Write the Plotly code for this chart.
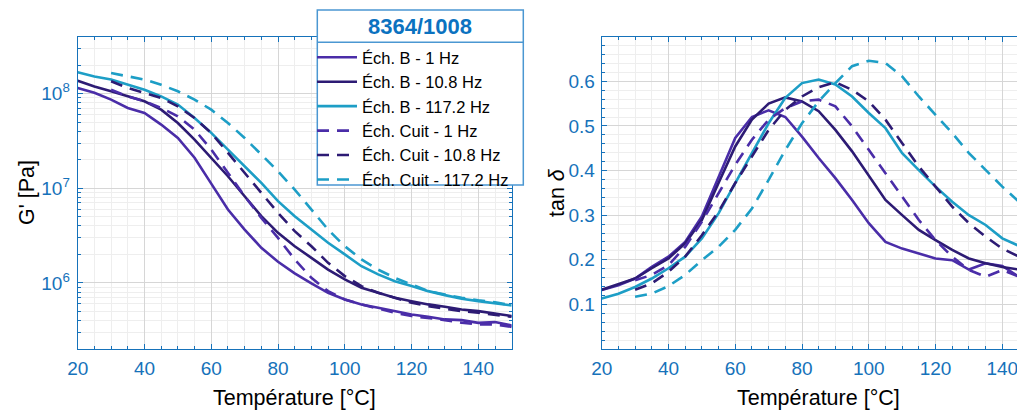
import plotly.graph_objects as go

# ---------------- data ----------------
temp_b = [20, 25, 30, 35, 40, 45, 50, 55, 60, 65, 70, 75, 80, 85, 90, 95, 100,
          105, 110, 115, 120, 125, 130, 135, 140, 145, 150]
temp_cuit = [30, 35, 40, 45, 50, 55, 60, 65, 70, 75, 80, 85, 90, 95, 100,
             105, 110, 115, 120, 125, 130, 135, 140, 145, 150]

# G' [Pa]
gp_b_1 = [1.15e8, 1.02e8, 8.65e7, 7.06e7, 6.25e7, 4.71e7, 3.40e7, 2.10e7, 1.12e7,
          5.96e6, 3.66e6, 2.35e6, 1.67e6, 1.26e6, 9.86e5, 7.85e5, 6.68e5, 5.92e5,
          5.46e5, 5.03e5, 4.64e5, 4.38e5, 4.11e5, 4.04e5, 3.78e5, 3.85e5, 3.55e5]
gp_b_10 = [1.37e8, 1.19e8, 1.06e8, 9.37e7, 8.30e7, 6.78e7, 4.90e7, 3.27e7, 2.09e7,
           1.34e7, 8.24e6, 5.07e6, 3.38e6, 2.44e6, 1.84e6, 1.38e6, 1.09e6, 8.87e5,
           7.85e5, 6.95e5, 6.41e5, 5.92e5, 5.59e5, 5.24e5, 5.03e5, 4.75e5, 4.46e5]
gp_b_117 = [1.68e8, 1.52e8, 1.41e8, 1.25e8, 1.10e8, 9.37e7, 7.66e7, 5.53e7, 3.85e7,
            2.56e7, 1.71e7, 1.14e7, 7.30e6, 5.07e6, 3.66e6, 2.65e6, 2.00e6, 1.50e6,
            1.23e6, 1.04e6, 9.24e5, 8.18e5, 7.42e5, 6.79e5, 6.41e5, 6.06e5, 5.77e5]
gp_c_1 = [1.10e8, 9.37e7, 8.30e7, 7.06e7, 5.77e7, 4.17e7, 2.56e7, 1.45e7, 8.24e6,
          4.86e6, 2.99e6, 1.77e6, 1.13e6, 8.18e5, 6.68e5, 5.92e5, 5.32e5, 4.83e5,
          4.46e5, 4.28e5, 4.04e5, 3.79e5, 3.64e5, 3.64e5, 3.43e5]
gp_c_10 = [1.35e8, 1.15e8, 1.02e8, 9.00e7, 7.35e7, 5.53e7, 3.85e7, 2.36e7, 1.45e7,
           8.93e6, 5.50e6, 3.52e6, 2.44e6, 1.63e6, 1.18e6, 9.24e5, 7.85e5, 6.95e5,
           6.16e5, 5.68e5, 5.32e5, 5.03e5, 4.83e5, 4.64e5, 4.38e5]
gp_c_117 = [1.65e8, 1.52e8, 1.41e8, 1.24e8, 1.06e8, 8.65e7, 6.78e7, 4.90e7, 3.40e7,
            2.27e7, 1.51e7, 9.69e6, 5.96e6, 3.66e6, 2.44e6, 1.77e6, 1.38e6, 1.13e6,
            9.62e5, 8.18e5, 7.54e5, 6.95e5, 6.56e5, 6.25e5, 5.77e5]

# tan delta
tan_b_1 = [0.132, 0.143, 0.158, 0.184, 0.207, 0.240, 0.297, 0.383, 0.473, 0.520,
           0.535, 0.520, 0.476, 0.428, 0.383, 0.334, 0.282, 0.240, 0.225, 0.214,
           0.203, 0.199, 0.178, 0.192, 0.186, 0.162, 0.175]
tan_b_10 = [0.133, 0.145, 0.158, 0.181, 0.203, 0.237, 0.289, 0.372, 0.454, 0.514,
            0.550, 0.564, 0.555, 0.533, 0.491, 0.443, 0.387, 0.334, 0.300, 0.267,
            0.244, 0.222, 0.203, 0.192, 0.184, 0.178, 0.172]
tan_b_117 = [0.113, 0.124, 0.139, 0.158, 0.181, 0.207, 0.248, 0.304, 0.372, 0.439,
             0.506, 0.563, 0.596, 0.604, 0.593, 0.566, 0.529, 0.495, 0.439, 0.401,
             0.364, 0.330, 0.300, 0.278, 0.248, 0.231, 0.215]
tan_c_1 = [0.154, 0.166, 0.188, 0.229, 0.285, 0.349, 0.413, 0.469, 0.514, 0.540,
           0.555, 0.559, 0.544, 0.499, 0.446, 0.394, 0.342, 0.289, 0.244, 0.207,
           0.177, 0.162, 0.177, 0.162, 0.170]
tan_c_10 = [0.133, 0.147, 0.173, 0.207, 0.255, 0.308, 0.372, 0.431, 0.491, 0.536,
            0.566, 0.587, 0.598, 0.581, 0.555, 0.514, 0.461, 0.409, 0.364, 0.319,
            0.282, 0.252, 0.225, 0.207, 0.192]
tan_c_117 = [0.117, 0.124, 0.141, 0.166, 0.199, 0.229, 0.267, 0.315, 0.379, 0.446,
             0.506, 0.555, 0.596, 0.634, 0.646, 0.641, 0.611, 0.566, 0.525, 0.484,
             0.439, 0.401, 0.364, 0.330, 0.310]

names = ["Éch. B - 1 Hz", "Éch. B - 10.8 Hz", "Éch. B - 117.2 Hz",
         "Éch. Cuit - 1 Hz", "Éch. Cuit - 10.8 Hz", "Éch. Cuit - 117.2 Hz"]
legend_title = "8364/1008"
x_title = "Température [°C]"
y1_title = "G' [Pa]"
y2_title = "tan <i>δ</i>"
x_ticks = [20, 40, 60, 80, 100, 120, 140]
y1_ticks = [1e6, 1e7, 1e8]
y1_ticktext = ["10<sup>6</sup>", "10<sup>7</sup>", "10<sup>8</sup>"]
y1_minor = [m * 10 ** e for e in range(5, 9) for m in range(2, 10) if 2e5 <= m * 10 ** e <= 4e8]
y2_ticks = [0.1, 0.2, 0.3, 0.4, 0.5, 0.6]

# ---------------- style ----------------
C1 = "#4a2da8"
C10 = "#2d1b74"
C117 = "#1d9ec6"
AX = "#1672ba"
GRID = "#d6d6d6"
MINOR = "#eeeeee"
FONT = "Liberation Sans, Arial, Helvetica, sans-serif"
LW = 2.6
DASH = "12px,8px"

# the page body adds an 8 px offset; the figure is sized to fill the rest
OFF = 8
W, H = 1025 - OFF, 412 - OFF
def px_x(p):
    return (p - OFF) / W
def px_y(p):
    return 1 - (p - OFF) / H

fig = go.Figure()

series = [
    (temp_b, gp_b_1, tan_b_1, C1, "solid", names[0]),
    (temp_b, gp_b_10, tan_b_10, C10, "solid", names[1]),
    (temp_b, gp_b_117, tan_b_117, C117, "solid", names[2]),
    (temp_cuit, gp_c_1, tan_c_1, C1, DASH, names[3]),
    (temp_cuit, gp_c_10, tan_c_10, C10, DASH, names[4]),
    (temp_cuit, gp_c_117, tan_c_117, C117, DASH, names[5]),
]
for xs, g, t, col, dash, nm in series:
    fig.add_trace(go.Scatter(x=xs, y=g, mode="lines", name=nm, legendgroup=nm,
                             line=dict(color=col, width=LW, dash=dash),
                             xaxis="x", yaxis="y"))
    fig.add_trace(go.Scatter(x=xs, y=t, mode="lines", name=nm, legendgroup=nm,
                             showlegend=False,
                             line=dict(color=col, width=LW, dash=dash),
                             xaxis="x2", yaxis="y2"))

tickfont = dict(family=FONT, size=19, color=AX)
titlefont = dict(family=FONT, size=21.5, color="black")

xcommon = dict(
    range=[20, 150], tickvals=x_ticks, ticks="inside", ticklen=5, tickcolor=AX,
    showline=True, linecolor=AX, linewidth=1.2, mirror="allticks",
    showgrid=True, gridcolor=GRID, gridwidth=1, zeroline=False, automargin=False,
    tickfont=tickfont, ticklabelstandoff=2,
    minor=dict(dtick=5, tick0=0, ticks="inside", ticklen=3, tickcolor=AX,
               showgrid=True, gridcolor=MINOR, gridwidth=1),
)

fig.update_layout(
    width=W, height=H,
    margin=dict(l=0, r=0, t=0, b=0),
    paper_bgcolor="white", plot_bgcolor="white",
    showlegend=True,
    xaxis=dict(xcommon, domain=[px_x(77.7), px_x(511.7)], anchor="y"),
    yaxis=dict(type="log", range=[5.30103, 8.60206], domain=[px_y(349), px_y(36.7)],
               anchor="x", tickvals=y1_ticks, ticktext=y1_ticktext,
               ticks="inside", ticklen=5, tickcolor=AX,
               showline=True, linecolor=AX, linewidth=1.2, mirror="allticks",
               showgrid=True, gridcolor=GRID, zeroline=False, automargin=False,
               tickfont=tickfont, ticklabelstandoff=3,
               minor=dict(tickvals=y1_minor, ticks="inside", ticklen=3, tickcolor=AX,
                          showgrid=True, gridcolor=MINOR)),
    xaxis2=dict(xcommon, range=[20, 146.8], domain=[px_x(601.7), 1.0], anchor="y2"),
    yaxis2=dict(range=[0, 0.7], domain=[px_y(349), px_y(36.7)], anchor="x2",
                tickvals=y2_ticks, tickformat=".1f",
                ticks="inside", ticklen=5, tickcolor=AX,
                showline=True, linecolor=AX, linewidth=1.2, mirror=False,
                showgrid=True, gridcolor=GRID, zeroline=False, automargin=False,
                tickfont=tickfont, ticklabelstandoff=2,
                minor=dict(dtick=0.02, tick0=0, ticks="inside", ticklen=3, tickcolor=AX,
                           showgrid=True, gridcolor=MINOR)),
    legend=dict(
        x=px_x(312), y=px_y(40), xanchor="left", yanchor="top",
        bgcolor="rgba(0,0,0,0)", borderwidth=0,
        font=dict(family=FONT, size=16.5, color="black"),
        itemwidth=40, tracegroupgap=0,
    ),
    annotations=[
        dict(text="<b>" + legend_title + "</b>", xref="paper", yref="paper",
             x=px_x(420.3), y=px_y(26.5), xanchor="center", yanchor="middle",
             showarrow=False, font=dict(family=FONT, size=22, color="#0b72c0")),
        dict(text=x_title, xref="paper", yref="paper", x=px_x(294.7), y=px_y(398),
             xanchor="center", yanchor="middle", showarrow=False, font=titlefont),
        dict(text=x_title, xref="paper", yref="paper", x=px_x(818.7), y=px_y(398),
             xanchor="center", yanchor="middle", showarrow=False, font=titlefont),
        dict(text=y1_title, xref="paper", yref="paper", x=px_x(27), y=px_y(193),
             xanchor="center", yanchor="middle", textangle=-90, showarrow=False,
             font=titlefont),
        dict(text=y2_title, xref="paper", yref="paper", x=px_x(557), y=px_y(193),
             xanchor="center", yanchor="middle", textangle=-90, showarrow=False,
             font=titlefont),
    ],
    shapes=[
        dict(type="rect", xref="paper", yref="paper", layer="above",
             x0=px_x(317.3), x1=px_x(523.3), y0=px_y(185), y1=px_y(10),
             fillcolor="white", line=dict(color="#4b97d2", width=1.5)),
        dict(type="line", xref="paper", yref="paper", layer="above",
             x0=px_x(317.3), x1=px_x(523.3), y0=px_y(42.3), y1=px_y(42.3),
             line=dict(color="#4b97d2", width=1.5)),
    ],
)

fig.write_html("out.html")
